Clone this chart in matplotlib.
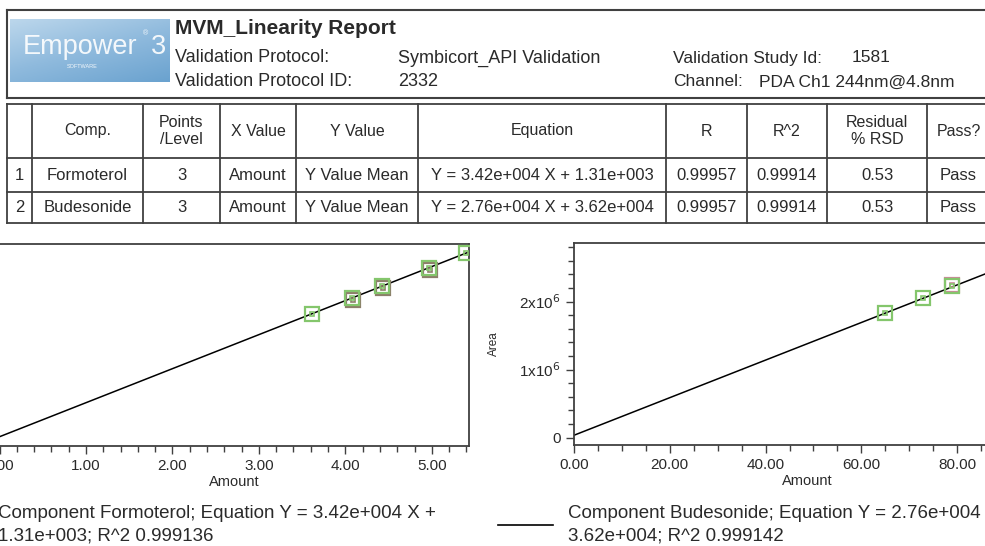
import numpy as np
import matplotlib.pyplot as plt
from matplotlib.ticker import MultipleLocator, FormatStrFormatter, FixedLocator, FixedFormatter
from matplotlib.colors import LinearSegmentedColormap
from matplotlib.lines import Line2D

plt.rcParams['font.family'] = ['Liberation Sans', 'DejaVu Sans']

# ---- report header ----
report_title = "MVM_Linearity Report"
protocol_name = "Symbicort_API Validation"
protocol_id = "2332"
study_id = "1581"
channel = "PDA Ch1 244nm@4.8nm"

# ---- summary table ----
table_header = ["", "Comp.", "Points\n/Level", "X Value", "Y Value", "Equation",
                "R", "R^2", "Residual\n% RSD", "Pass?"]
comp_names = ["Formoterol", "Budesonide"]
points_per_level = [3, 3]
x_value = ["Amount", "Amount"]
y_value = ["Y Value Mean", "Y Value Mean"]
equations = ["Y = 3.42e+004 X + 1.31e+003", "Y = 2.76e+004 X + 3.62e+004"]
r_values = ["0.99957", "0.99957"]
r2_values = ["0.99914", "0.99914"]
rsd_values = ["0.53", "0.53"]
pass_values = ["Pass", "Pass"]

# ---- calibration data ----
slopes = [3.42e4, 2.76e4]
intercepts = [1.31e3, 3.62e4]
r2_full = [0.999136, 0.999142]
legend_eq = ["3.42e+004 X +", "2.76e+004 X +"]
legend_b = ["1.31e+003", "3.62e+004"]

form_amount = [3.61, 4.08, 4.42, 4.97, 5.40]
form_area = [124800, 140500, 152300, 170600, 186100]
form_rep_amount = [4.09, 4.43, 4.98]
form_rep_area = [138900, 150700, 169000]

bude_amount = [64.9, 72.9, 78.9]
bude_area = [1.830e6, 2.050e6, 2.225e6]
bude_rep_amount = [78.9]
bude_rep_area = [2.245e6]

W, H = 985, 546
TXT = '#2a2a2a'
EDGE = '#404040'
GREEN = '#84c66c'


def fx(x):
    return x / W


def fy(y):
    return 1 - y / H


fig = plt.figure(figsize=(9.85, 5.46), dpi=100)
fig.patch.set_facecolor('white')


def hline(y, x0, x1, lw=1.3):
    fig.add_artist(Line2D([fx(x0), fx(x1)], [fy(y), fy(y)], transform=fig.transFigure,
                          color=EDGE, lw=lw))


def vline(x, y0, y1, lw=1.3):
    fig.add_artist(Line2D([fx(x), fx(x)], [fy(y0), fy(y1)], transform=fig.transFigure,
                          color=EDGE, lw=lw))


def ftext(x, y, s, size=12, ha='left', **kw):
    fig.text(fx(x), fy(y), s, fontsize=size, ha=ha, va='center', color=TXT, **kw)


# header box
hline(10, 7, 1000, 1.5)
hline(98, 7, 1000, 1.5)
vline(7, 10, 98, 1.5)

# logo
lax = fig.add_axes([fx(10), fy(82), fx(160), (82 - 19) / H])
grad = np.linspace(0, 1, 200)[None, :] * 0.4 + np.linspace(0, 1, 60)[:, None] * 0.6
lax.imshow(grad, cmap=LinearSegmentedColormap.from_list(
    'logo', ['#bcd7ec', '#8fbadd', '#6aa2cf']), aspect='auto', extent=[0, 1, 0, 1])
lax.text(0.08, 0.55, "Empower", fontsize=19.5, color='white', alpha=0.9, va='center')
lax.text(0.83, 0.76, "®", fontsize=5, color='white', alpha=0.9, va='center')
lax.text(0.88, 0.55, "3", fontsize=19.5, color='white', alpha=0.9, va='center')
lax.text(0.45, 0.25, "SOFTWARE", fontsize=4, color='white', alpha=0.9, ha='center', va='center')
lax.set_axis_off()

ftext(175, 28, report_title, size=15, fontweight='bold')
ftext(175, 58, "Validation Protocol:", size=13)
ftext(398, 58, protocol_name, size=13)
ftext(175, 82, "Validation Protocol ID:", size=13)
ftext(398, 82, protocol_id, size=13)
ftext(673, 58, "Validation Study Id:", size=12.5)
ftext(852, 58, study_id, size=12.5)
ftext(673, 82, "Channel:", size=12.5)
ftext(759, 82, channel, size=12.5)

# table
col_x = [7, 32, 143, 220, 296, 418, 666, 747, 827, 927, 990]
row_y = [104, 158, 192, 223]
for y in row_y:
    hline(y, col_x[0], 1000)
for x in col_x[:-1]:
    vline(x, row_y[0], row_y[-1])
centers = [(col_x[i] + col_x[i + 1]) / 2 for i in range(len(col_x) - 1)]
for c, s in zip(centers, table_header):
    ftext(c, 131, s, size=11.5, ha='center', linespacing=1.1)
for r in range(len(comp_names)):
    cells = [str(r + 1), comp_names[r], str(points_per_level[r]), x_value[r], y_value[r],
             equations[r], r_values[r], r2_values[r], rsd_values[r], pass_values[r]]
    yc = (row_y[r + 1] + row_y[r + 2]) / 2
    for c, s in zip(centers, cells):
        ftext(c, yc, s, size=12, ha='center')


def style_axes(ax):
    for s in ax.spines.values():
        s.set_color(EDGE)
        s.set_linewidth(1.3)
    ax.tick_params(which='major', length=6, width=1, color=EDGE, labelsize=11,
                   labelcolor=TXT, direction='out')
    ax.tick_params(which='minor', length=4, width=1, color=EDGE, direction='out')
    ax.set_xlabel("Amount", fontsize=10.5, color=TXT, labelpad=1)


def draw_points(ax, xs, ys, color):
    ax.plot(xs, ys, ls='none', marker='s', ms=9.5, mfc='none', mec=color, mew=1.6, zorder=3)
    ax.plot(xs, ys, ls='none', marker='s', ms=3.5, mfc='none', mec=color, mew=1.2, zorder=3)


# Formoterol plot (left edge cropped)
ax1 = fig.add_axes([fx(-0.5), fy(446), 469.5 / W, 202 / H])
x_max1 = 5.43
xs = np.array([0, x_max1])
ax1.plot(xs, slopes[0] * xs + intercepts[0], color='black', lw=1.1, zorder=2)
draw_points(ax1, form_rep_amount, form_rep_area, '#8c7f6a')
draw_points(ax1, form_amount, form_area, GREEN)
ax1.set_xlim(0, x_max1)
ax1.set_ylim(-8000, 195000)
ax1.xaxis.set_major_locator(MultipleLocator(1))
ax1.xaxis.set_minor_locator(MultipleLocator(0.2))
ax1.xaxis.set_major_formatter(FormatStrFormatter('%.2f'))
ax1.spines['left'].set_visible(False)
ax1.set_yticks([])
style_axes(ax1)

# Budesonide plot (right edge cropped)
ax2 = fig.add_axes([fx(574), fy(445), (1040 - 574) / W, 202 / H])
x_max2 = 97.3
xs = np.array([0, x_max2])
ax2.plot(xs, slopes[1] * xs + intercepts[1], color='black', lw=1.1, zorder=2)
draw_points(ax2, bude_rep_amount, bude_rep_area, '#c98a9a')
draw_points(ax2, bude_amount, bude_area, GREEN)
ax2.set_xlim(0, x_max2)
ax2.set_ylim(-1.07e5, 2.86e6)
ax2.xaxis.set_major_locator(MultipleLocator(20))
ax2.xaxis.set_minor_locator(MultipleLocator(5))
ax2.xaxis.set_major_formatter(FormatStrFormatter('%.2f'))
ax2.yaxis.set_major_locator(FixedLocator([0, 1e6, 2e6]))
ax2.yaxis.set_major_formatter(FixedFormatter(['0', r'1x10$^{6}$', r'2x10$^{6}$']))
ax2.yaxis.set_minor_locator(MultipleLocator(2e5))
ax2.spines['right'].set_visible(False)
style_axes(ax2)
ax2.set_ylabel("Area", fontsize=8.5, color=TXT, labelpad=14)

# legends below the plots
fig.add_artist(Line2D([fx(498), fx(553)], [fy(525), fy(525)], transform=fig.transFigure,
                      color='black', lw=1.2))
for x0, r in [(-2, 0), (568, 1)]:
    ftext(x0, 513, f"Component {comp_names[r]}; Equation Y = {legend_eq[r]}", size=13.5)
    ftext(x0, 536, f"{legend_b[r]}; R^2 {r2_full[r]:.6f}", size=13.5)

fig.savefig("out.png", dpi=100)
